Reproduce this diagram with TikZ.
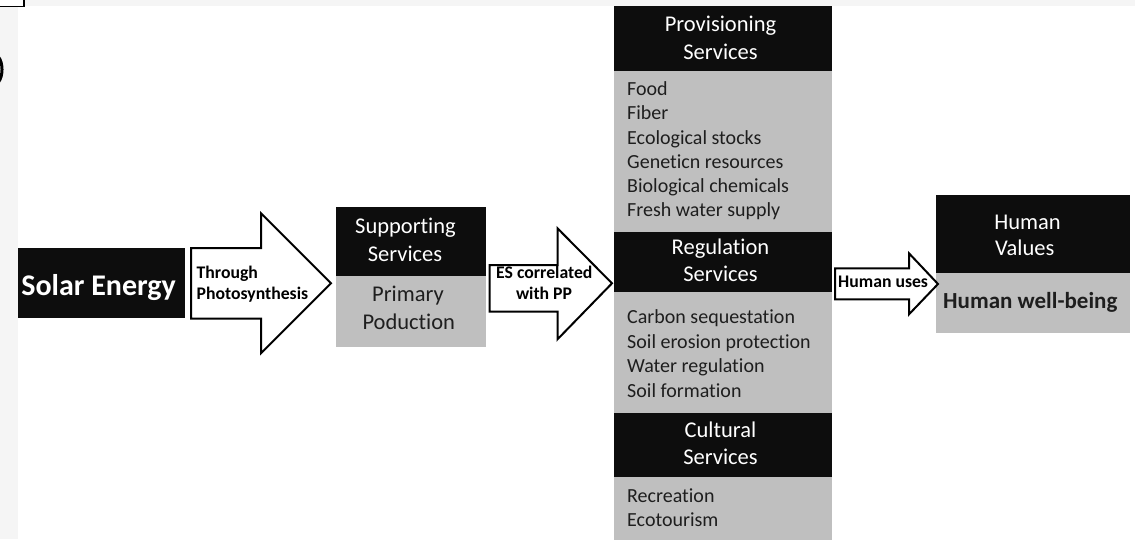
\documentclass[tikz,border=0pt]{standalone}
\usepackage{fontspec}
\setmainfont{Carlito}[Ligatures={NoCommon}]
\usetikzlibrary{calc}
\definecolor{boxblack}{HTML}{0D0D0D}
\definecolor{boxgray}{HTML}{BFBFBF}
\definecolor{bgstrip}{HTML}{F5F5F5}
\definecolor{txtdark}{HTML}{1E1E1E}
\begin{document}
\begin{tikzpicture}[x=1pt,y=-1pt,
  blackbox/.style={fill=boxblack,draw=none,inner sep=0pt,outer sep=0pt,anchor=north west},
  graybox/.style={fill=boxgray,draw=none,inner sep=0pt,outer sep=0pt,anchor=north west},
  blockarrow/.style={draw=black,fill=white,line width=2pt,line join=miter},
  headtxt/.style={text=white,font=\fontsize{22.5}{27}\selectfont,inner sep=0pt,anchor=base},
  bodytxt/.style={text=txtdark,font=\fontsize{22.5}{27}\selectfont,inner sep=0pt,anchor=base},
  itemtxt/.style={text=txtdark,font=\fontsize{20}{24}\selectfont,inner sep=0pt,anchor=base west},
  arrtxt/.style={text=black,font=\fontsize{17.7}{21}\selectfont\bfseries,inner sep=0pt},
]
\useasboundingbox (0,0) rectangle (1135,539);
% background
\fill[white] (0,0) rectangle (1135,539);
\fill[bgstrip] (0,0) rectangle (18,539);
\fill[bgstrip] (0,0) rectangle (1135,6);
\draw[line width=1.3pt,fill=white] (-2,-2) rectangle (24,6.5);
\draw[line width=3pt] (-1.5,57) .. controls (3.2,63) and (3.2,76) .. (-1.5,82);

% boxes
\node[blackbox,minimum width=167pt,minimum height=70pt] (solar) at (18,248) {};
\node[blackbox,minimum width=150pt,minimum height=69.3pt] (supp) at (336,206.7) {};
\node[graybox,minimum width=150pt,minimum height=71.3pt] (prim) at (336,276) {};
\node[blackbox,minimum width=218pt,minimum height=64.7pt] (prov) at (614,5.8) {};
\node[graybox,minimum width=218pt,minimum height=161.5pt] (provlist) at (614,70.5) {};
\node[blackbox,minimum width=218pt,minimum height=60pt] (reg) at (614,232) {};
\node[graybox,minimum width=218pt,minimum height=120.5pt] (reglist) at (614,292) {};
\node[blackbox,minimum width=218pt,minimum height=64.3pt] (cult) at (614,412.5) {};
\node[graybox,minimum width=218pt,minimum height=64pt] (cultlist) at (614,476.8) {};
\node[blackbox,minimum width=194pt,minimum height=78pt] (hval) at (936,195) {};
\node[graybox,minimum width=194pt,minimum height=60pt] (hwell) at (936,273) {};

% block arrows
\coordinate (a1tail) at ($(solar.east)+(6,0.3)$);
\coordinate (a1tip) at ($(supp.west |- a1tail)+(-5,0)$);
\draw[blockarrow] ($(a1tail)+(0,-35.3)$) -- ($(a1tail)+(70,-35.3)$) -- ($(a1tail)+(70,-70)$)
  -- (a1tip) -- ($(a1tail)+(70,70)$) -- ($(a1tail)+(70,35.3)$) -- ($(a1tail)+(0,35.3)$) -- cycle;

\coordinate (a2tail) at ($(supp.east |- a1tip)+(3.5,0)$);
\coordinate (a2tip) at ($(prov.west |- a1tip)+(-2,0)$);
\draw[blockarrow] ($(a2tail)+(0,-18.3)$) -- ($(a2tail)+(68,-18.3)$) -- ($(a2tail)+(68,-55)$)
  -- (a2tip) -- ($(a2tail)+(68,56)$) -- ($(a2tail)+(68,28.4)$) -- ($(a2tail)+(0,28.4)$) -- cycle;

\coordinate (a3tail) at ($(reg.east |- a1tip)+(3,0.5)$);
\coordinate (a3tip) at ($(hval.south west)+(2,11)$);
\draw[blockarrow] ($(a3tail)+(0,-15.5)$) -- ($(a3tail)+(74,-15.5)$) -- ($(a3tail)+(74,-30.5)$)
  -- (a3tip) -- ($(a3tail)+(74,30.5)$) -- ($(a3tail)+(74,15.5)$) -- ($(a3tail)+(0,15.5)$) -- cycle;

% texts
\node[text=white,font=\fontsize{30}{36}\selectfont\bfseries,inner sep=0pt,anchor=base] (solarT) at (98.6,295) {Solar Energy};
\node[arrtxt,anchor=base west] (t1a) at (196.5,278) {Through};
\node[arrtxt,anchor=base west] (t1b) at (196.5,299) {Photosynthesis};
\node[arrtxt,anchor=base] (t2a) at (544.3,278) {ES correlated};
\node[arrtxt,anchor=base] (t2b) at (544,299) {with PP};
\node[arrtxt,anchor=base west] (t3) at (838,287.7) {Human uses};

\node[headtxt] (suppA) at (405.5,233.5) {Supporting};
\node[headtxt] (suppB) at (405,261) {Services};
\node[bodytxt] (primA) at (408,301.5) {Primary};
\node[bodytxt] (primB) at (408.8,329.3) {Poduction};

\node[headtxt] (provA) at (720.5,31.6) {Provisioning};
\node[headtxt] (provB) at (720.5,59.5) {Services};
\foreach \t [count=\i] in {Food,Fiber,Ecological stocks,Geneticn resources,Biological chemicals,Fresh water supply}
  \node[itemtxt] (pv\i) at (627,{95.6+24.2*(\i-1)}) {\t};

\node[headtxt] (regA) at (720.5,254.4) {Regulation};
\node[headtxt] (regB) at (720.5,281.2) {Services};
\foreach \t [count=\i] in {Carbon sequestation,Soil erosion protection,Water regulation,Soil formation}
  \node[itemtxt] (rg\i) at (627,{323.8+24.4*(\i-1)}) {\t};

\node[headtxt] (cultA) at (720.5,437.3) {Cultural};
\node[headtxt] (cultB) at (720.5,464.8) {Services};
\foreach \t [count=\i] in {Recreation,Ecotourism}
  \node[itemtxt] (ct\i) at (627,{502+24.3*(\i-1)}) {\t};

\node[headtxt] (hvA) at (1027.5,229) {Human};
\node[headtxt] (hvB) at (1024.7,255.7) {Values};
\node[text=txtdark,font=\fontsize{23}{27}\selectfont\bfseries,inner sep=0pt,anchor=base west] (hw) at (943,308) {Human well-being};
\end{tikzpicture}
\end{document}
